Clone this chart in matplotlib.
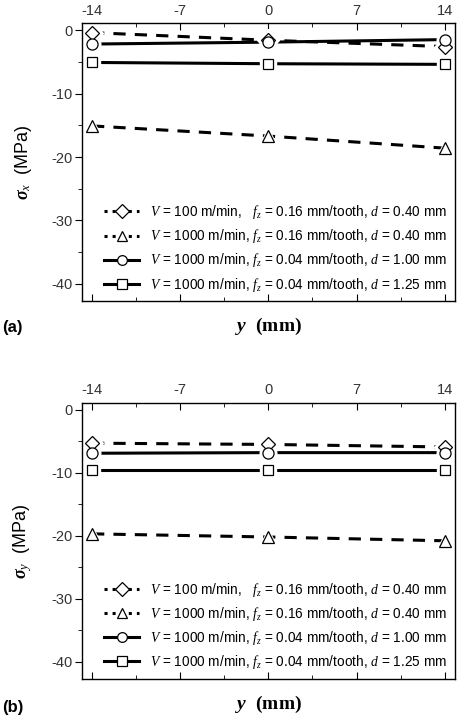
import matplotlib
matplotlib.use("Agg")
import matplotlib.pyplot as plt
from matplotlib.lines import Line2D

plt.rcParams['font.family'] = ['Liberation Sans', 'DejaVu Sans']
plt.rcParams['mathtext.fontset'] = 'custom'
plt.rcParams['mathtext.it'] = 'Liberation Serif:italic'
plt.rcParams['mathtext.rm'] = 'Liberation Sans'
plt.rcParams['mathtext.bf'] = 'Liberation Serif:italic:bold'

y_pos = [-14, 0, 14]
x_ticks = [-14, -7, 0, 7, 14]
y_ticks = [0, -10, -20, -30, -40]

labels = [
    r"$V$ = 100 m/min,   $f_z$ = 0.16 mm/tooth, $d$ = 0.40 mm",
    r"$V$ = 1000 m/min, $f_z$ = 0.16 mm/tooth, $d$ = 0.40 mm",
    r"$V$ = 1000 m/min, $f_z$ = 0.04 mm/tooth, $d$ = 1.00 mm",
    r"$V$ = 1000 m/min, $f_z$ = 0.04 mm/tooth, $d$ = 1.25 mm",
]
markers = ['D', '^', 'o', 's']
plot_styles = [(0, (4, 3)), (0, (4, 3)), '-', '-']
legend_styles = [':', ':', '-', '-']

# panel (a): sigma_x
sx_diamond = [-0.4, -1.6, -2.6]
sx_triangle = [-15.1, -16.7, -18.6]
sx_circle = [-2.2, -1.9, -1.5]
sx_square = [-5.1, -5.3, -5.4]

# panel (b): sigma_y
sy_diamond = [-5.3, -5.5, -5.9]
sy_triangle = [-19.7, -20.2, -20.8]
sy_circle = [-6.9, -6.8, -6.8]
sy_square = [-9.6, -9.6, -9.6]

fig = plt.figure(figsize=(4.58, 7.22), dpi=100)
ax_a = fig.add_axes([0.179, 0.583, 0.814, 0.385])
ax_b = fig.add_axes([0.179, 0.060, 0.814, 0.382])


def draw_panel(ax, series, ylab):
    for vals, mk, ls in zip(series, markers, plot_styles):
        ax.plot(y_pos, vals, color='black', lw=2.2, ls=ls, zorder=2)
        ms = {'D': 7, '^': 8, 'o': 8, 's': 7}[mk]
        ax.plot(y_pos, vals, ls='none', marker=mk, ms=ms + 4, mfc='white',
                mec='white', zorder=3)
        ax.plot(y_pos, vals, ls='none', marker=mk, ms=ms, mfc='white',
                mec='black', mew=0.9, zorder=4)
    ax.set_xlim(-14.8, 14.8)
    ax.set_ylim(-42.7, 1.1)
    ax.set_xticks(x_ticks)
    ax.set_xticks([-10.5, -3.5, 3.5, 10.5], minor=True)
    ax.set_yticks(y_ticks)
    ax.set_yticks([-5, -15, -25, -35], minor=True)
    ax.set_yticklabels([str(v) for v in y_ticks], fontsize=10.5, color='#333333')
    ax.set_xticklabels([str(v) for v in x_ticks], fontsize=10.5, color='#333333')
    ax.tick_params(axis='x', which='both', direction='in', top=True,
                   bottom=True, labeltop=True, labelbottom=False)
    ax.tick_params(axis='x', which='major', length=5, pad=4)
    ax.tick_params(axis='x', which='minor', length=3)
    ax.tick_params(axis='y', which='both', direction='out', right=False)
    ax.tick_params(axis='y', which='major', length=5, pad=2)
    ax.tick_params(axis='y', which='minor', length=3)
    for s in ax.spines.values():
        s.set_linewidth(1.0)
        s.set_zorder(10)
    ax.set_ylabel(ylab + r"  (MPa)", fontsize=13, labelpad=12)
    ax.set_xlabel(r"$\mathbf{y}$  (mm)", fontsize=14, labelpad=11,
                  family='Liberation Serif', fontweight='bold')

    handles = [
        Line2D([], [], color='black', lw=2.2, ls=ls, marker=mk,
               ms=7, mfc='white', mec='black', mew=0.9)
        for mk, ls in zip(markers, legend_styles)
    ]
    ax.legend(handles, labels, loc='lower right', frameon=False, fontsize=9.8,
              handlelength=2.6, handletextpad=0.8, labelspacing=0.45,
              borderaxespad=0.15)


draw_panel(ax_a, [sx_diamond, sx_triangle, sx_circle, sx_square],
           r"$\mathbf{\sigma}_x$")
draw_panel(ax_b, [sy_diamond, sy_triangle, sy_circle, sy_square],
           r"$\mathbf{\sigma}_y$")

fig.text(0.005, 0.54, "(a)", fontsize=12, fontweight='bold')
fig.text(0.005, 0.014, "(b)", fontsize=12, fontweight='bold')

fig.savefig("out.png", dpi=100)
